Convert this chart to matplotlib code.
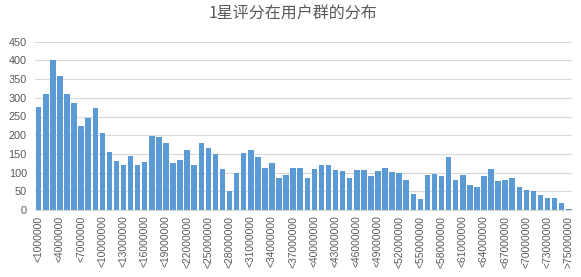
import matplotlib
matplotlib.use("Agg")
import matplotlib.pyplot as plt
import numpy as np

# categories: <1000000 ... <75000000, >75000000
categories = ["<%d" % (i * 1000000) for i in range(1, 76)] + [">75000000"]
counts = [275, 310, 402, 359, 310, 286, 225, 247, 272, 205,
          155, 131, 119, 145, 121, 128, 198, 195, 178, 125,
          135, 160, 121, 179, 166, 149, 109, 51, 99, 152,
          160, 143, 112, 126, 86, 94, 112, 112, 86, 109,
          119, 121, 107, 103, 86, 107, 107, 91, 103, 112,
          102, 100, 79, 44, 29, 94, 97, 90, 143, 79,
          94, 66, 62, 90, 110, 78, 79, 85, 61, 53,
          50, 40, 31, 31, 20, 3]
title = "1星评分在用户群的分布"

grey = "#595959"
fig = plt.figure(figsize=(5.81, 2.77), dpi=100)
ax = fig.add_axes([35.2 / 581, 67 / 277, 537.1 / 581, 168.3 / 277])

x = np.arange(len(categories))
ax.bar(x, counts, width=0.78, color="#5b9bd5", zorder=2)

ax.set_xlim(-0.5, len(categories) - 0.5)
ax.set_ylim(0, 450)
ax.set_yticks(range(0, 451, 50))
ax.grid(axis="y", color="#d9d9d9", linewidth=0.8, zorder=0)
for s in ["top", "right", "left"]:
    ax.spines[s].set_visible(False)
ax.spines["bottom"].set_color("#d9d9d9")

ticks = x[::3]
ax.set_xticks(ticks)
ax.set_xticklabels([categories[i] for i in ticks], rotation=90,
                   fontsize=7.4, color=grey, family="Liberation Sans")
ax.tick_params(axis="x", length=0, pad=4)
ax.tick_params(axis="y", length=0, pad=6, labelsize=7.8, labelcolor=grey)
for lab in ax.get_yticklabels():
    lab.set_family("Liberation Sans")

fig.text(293 / 581, 1 - 14 / 277, title, ha="center", va="center",
         fontsize=11.5, color=grey, family=["Noto Sans CJK SC", "DejaVu Sans"])

fig.savefig("out.png", dpi=100)
